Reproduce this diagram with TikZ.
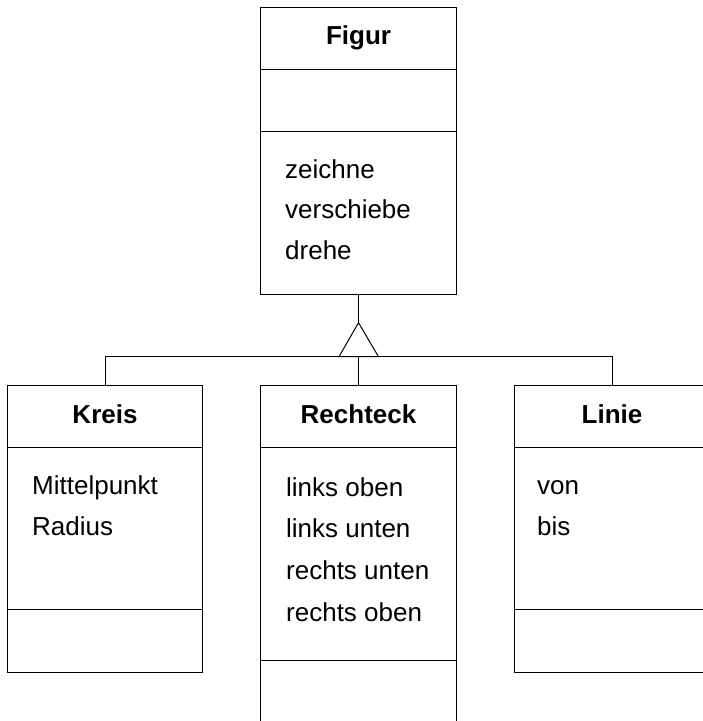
\documentclass[tikz,border=0pt]{standalone}
\usepackage{fontspec}
\setmainfont{Liberation Sans}
\begin{document}
\begin{tikzpicture}[x=1pt,y=-1pt,
  classbox/.style={draw,line width=1pt,rectangle,inner sep=0pt,outer sep=0pt,minimum width=196pt},
  title/.style={font=\fontsize{26}{31}\selectfont\bfseries,anchor=base,inner sep=0pt},
  member/.style={font=\fontsize{26}{31}\selectfont,anchor=base west,inner sep=0pt},
  conn/.style={line width=1pt}]
\useasboundingbox (0,0) rectangle (703,721);
\clip (0,0) rectangle (703,721);
% Figur
\node[classbox,minimum height=287pt] (figur) at (358.5,150.5) {};
\draw[conn] (figur.west |- 0,69.5) -- (figur.east |- 0,69.5);
\draw[conn] (figur.west |- 0,131.7) -- (figur.east |- 0,131.7);
\node[title] (tfigur) at (358.5,44.3) {Figur};
\node[member] (f1) at (285,178) {zeichne};
\node[member] (f2) at (285,218.5) {verschiebe};
\node[member] (f3) at (285,259.2) {drehe};
% Kreis
\node[classbox,minimum height=286.6pt,minimum width=195.4pt] (kreis) at (105,529) {};
\draw[conn] (kreis.west |- 0,447.7) -- (kreis.east |- 0,447.7);
\draw[conn] (kreis.west |- 0,609.3) -- (kreis.east |- 0,609.3);
\node[title] (tkreis) at (105,423.3) {Kreis};
\node[member] (k1) at (32,494) {Mittelpunkt};
\node[member] (k2) at (32,535) {Radius};
% Rechteck
\node[classbox,minimum height=360pt] (rechteck) at (358.5,565.7) {};
\draw[conn] (rechteck.west |- 0,447.7) -- (rechteck.east |- 0,447.7);
\draw[conn] (rechteck.west |- 0,660) -- (rechteck.east |- 0,660);
\node[title] (trechteck) at (358.5,423.3) {Rechteck};
\node[member] (r1) at (286,496) {links oben};
\node[member] (r2) at (286,537.5) {links unten};
\node[member] (r3) at (286,579.5) {rechts unten};
\node[member] (r4) at (286,621.5) {rechts oben};
% Linie
\node[classbox,minimum height=286.6pt] (linie) at (612,529) {};
\draw[conn] (linie.west |- 0,447.7) -- (linie.east |- 0,447.7);
\draw[conn] (linie.west |- 0,609.3) -- (linie.east |- 0,609.3);
\node[title] (tlinie) at (612,423.3) {Linie};
\node[member] (l1) at (537,494) {von};
\node[member] (l2) at (537,535) {bis};
% generalization
\coordinate (apex) at (358.5,322.7);
\coordinate (base) at (358.5,356.7);
\coordinate (bl) at (339,356.7);
\coordinate (br) at (378.5,356.7);
\draw[conn,line join=miter] (apex) -- (bl) -- (br) -- cycle;
\draw[conn] (figur.south) -- (apex);
\draw[conn] (kreis.north) |- (base);
\draw[conn] (linie.north) |- (base);
\draw[conn] (rechteck.north) -- (base);
\end{tikzpicture}
\end{document}
